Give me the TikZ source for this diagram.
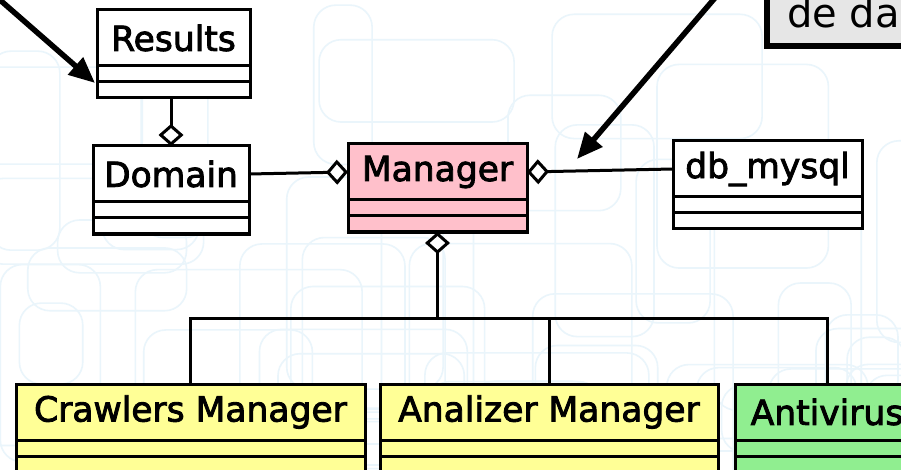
\documentclass[tikz,border=0pt]{standalone}
\usepackage{fontspec}
\setmainfont{DejaVu Sans}
\newfontfamily\umlfont{DejaVu Sans}[RawFeature={embolden=2.5}]
\usetikzlibrary{arrows.meta,calc}
\definecolor{umlpink}{RGB}{255,192,203}
\definecolor{umlyellow}{RGB}{255,255,150}
\definecolor{umlgreen}{RGB}{144,238,144}
\definecolor{notegray}{RGB}{230,230,230}
\definecolor{bgblue}{RGB}{234,245,251}
\tikzset{
  clstitle/.style={draw=black, line width=3pt, inner sep=0pt, outer sep=0pt, anchor=north west,
    font=\umlfont\fontsize{34.5}{36}\selectfont, text=black},
  clscomp/.style={draw=black, line width=3pt, inner sep=0pt, outer sep=0pt, anchor=north west},
  conn/.style={draw=black, line width=3pt},
  aggtip/.tip={Diamond[length=22pt, width=25pt, fill=white]},
  bigarrow/.style={draw=black, line width=5.5pt, -{Triangle[length=26pt, width=22pt]}},
  bgline/.style={draw=bgblue, line width=1.6pt, rounded corners=22pt},
  notebox/.style={draw=black, fill=notegray, line width=6pt, inner sep=0pt, outer sep=0pt, anchor=north west},
}
\newcommand{\umlclass}[6]{%
  \node[clstitle, fill=#5, minimum width=#4pt, minimum height=56pt] (#1) at (#2,#3) {#6};
  \node[clscomp, fill=#5, minimum width=#4pt, minimum height=16pt] (#1-a) at (#1.south west) {};
  \node[clscomp, fill=#5, minimum width=#4pt, minimum height=16pt] (#1-b) at (#1-a.south west) {};}
\begin{document}
\begin{tikzpicture}[x=1pt,y=-1pt]
\useasboundingbox (0,0) rectangle (901,470);
\clip (0,0) rectangle (901,470);
\fill[white] (0,0) rectangle (901,470);
% faint background wallpaper
\pgfmathsetseed{12}
\foreach \i in {1,...,55}{
  \pgfmathsetmacro{\bx}{rnd*950-50}
  \pgfmathsetmacro{\by}{rnd*500-40}
  \pgfmathsetmacro{\bw}{50+rnd*180}
  \pgfmathsetmacro{\bh}{50+rnd*180}
  \draw[bgline] (\bx,\by) rectangle ++(\bw,\bh);
}
% classes
\umlclass{results}{97}{10}{153}{white}{Results}
\umlclass{domain}{93}{146}{156}{white}{Domain}
\umlclass{manager}{348}{144}{179}{umlpink}{Manager}
\umlclass{db}{673}{141}{189}{white}{db\_mysql}
\umlclass{crawl}{16}{384}{349}{umlyellow}{Crawlers Manager}
\umlclass{anal}{380}{384}{338}{umlyellow}{Analizer Manager}
\umlclass{anti}{735}{384}{184}{umlgreen}{Antivirus}
% connectors
\draw[conn, {aggtip}-] (domain.north) -- (domain.north |- results-b.south);
\draw[conn, -{aggtip}] (domain.east) -- (manager.west);
\draw[conn, {aggtip}-] (manager.east) -- (db.west);
\draw[conn, {aggtip}-] (manager-b.south) -- ++(0,86) coordinate (bus);
\draw[conn] (crawl.north) |- (bus) -| (anti.north);
\draw[conn] (anal.north) -- (anal.north |- bus);
% note
\node[notebox, minimum width=160pt, minimum height=70pt] (note) at (767,-24) {};
\node[anchor=base west, inner sep=0pt, font=\fontsize{40}{44}\selectfont] (notetext) at (787,28) {de da};
% arrows
\coordinate (a1start) at (-8,-7);
\coordinate (a1tip) at (95,83);
\draw[bigarrow] (a1start) -- (a1tip);
\coordinate (a2start) at (726,-15);
\coordinate (a2tip) at (577,159);
\draw[bigarrow] (a2start) -- (a2tip);
\end{tikzpicture}
\end{document}
